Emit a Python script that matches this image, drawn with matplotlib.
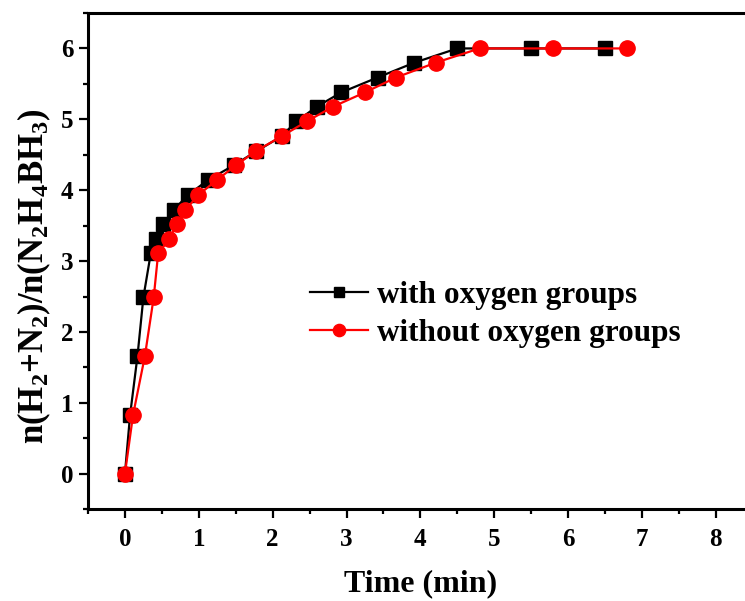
import numpy as np
import matplotlib
matplotlib.use("Agg")
import matplotlib.pyplot as plt
import matplotlib.ticker as ticker

# values
time_with = [0, 0.07, 0.17, 0.25, 0.35, 0.42, 0.52, 0.66, 0.85, 1.12, 1.47,
             1.78, 2.12, 2.32, 2.6, 2.93, 3.42, 3.92, 4.5, 5.5, 6.5]
time_without = [0, 0.11, 0.27, 0.39, 0.45, 0.6, 0.7, 0.82, 0.99, 1.24, 1.5,
                1.77, 2.12, 2.46, 2.82, 3.25, 3.67, 4.21, 4.8, 5.8, 6.8]
ratio_with = [0, 0.83, 1.66, 2.49, 3.11, 3.31, 3.52, 3.72, 3.93, 4.14, 4.35,
              4.55, 4.76, 4.97, 5.18, 5.38, 5.59, 5.8, 6.0, 6.0, 6.0]
ratio_without = [0, 0.83, 1.66, 2.49, 3.11, 3.31, 3.52, 3.72, 3.93, 4.14, 4.35,
                 4.55, 4.76, 4.97, 5.18, 5.38, 5.59, 5.8, 6.0, 6.0, 6.0]

plt.rcParams['font.family'] = ['Liberation Serif', 'DejaVu Serif']
plt.rcParams['font.weight'] = 'bold'
plt.rcParams['mathtext.fontset'] = 'custom'
plt.rcParams['mathtext.rm'] = 'Liberation Serif:bold'
plt.rcParams['mathtext.it'] = 'Liberation Serif:bold'
plt.rcParams['mathtext.bf'] = 'Liberation Serif:bold'
plt.rcParams['mathtext.default'] = 'regular'

fig = plt.figure(figsize=(7.45, 6.01), dpi=100)
ax = fig.add_axes([0.1181, 0.1526, 0.8924, 0.8258])

ax.plot(time_with, ratio_with, color='black', marker='s', markersize=9.5,
        linewidth=1.6, label='with oxygen groups')
ax.plot(time_without, ratio_without, color='red', marker='o', markersize=11,
        linewidth=1.6, label='without oxygen groups')

ax.set_xlim(-0.5, 8.5)
ax.set_ylim(-0.5, 6.5)
ax.xaxis.set_major_locator(ticker.MultipleLocator(1))
ax.xaxis.set_minor_locator(ticker.MultipleLocator(0.5))
ax.yaxis.set_major_locator(ticker.MultipleLocator(1))
ax.yaxis.set_minor_locator(ticker.MultipleLocator(0.5))
ax.tick_params(which='major', direction='out', length=6.5, width=1.6,
               labelsize=18)
ax.tick_params(which='minor', direction='out', length=3.5, width=1.6)
ax.tick_params(axis='x', which='major', pad=7)
ax.tick_params(axis='y', which='major', pad=4)
for s in ax.spines.values():
    s.set_linewidth(2.2)

ax.set_xlabel('Time (min)', fontsize=23, fontweight='bold', labelpad=13)
ax.set_ylabel('n(H$_2$+N$_2$)/n(N$_2$H$_4$BH$_3$)', fontsize=25,
              fontweight='bold')
ax.yaxis.set_label_coords(-0.053, 0.47)

leg = ax.legend(loc='center left', bbox_to_anchor=(0.315, 0.3925),
                borderaxespad=0, frameon=False, fontsize=22.5,
                handlelength=1.85, handletextpad=0.3, labelspacing=0.3,
                markerscale=0.8)

fig.savefig('out.png', dpi=100)
